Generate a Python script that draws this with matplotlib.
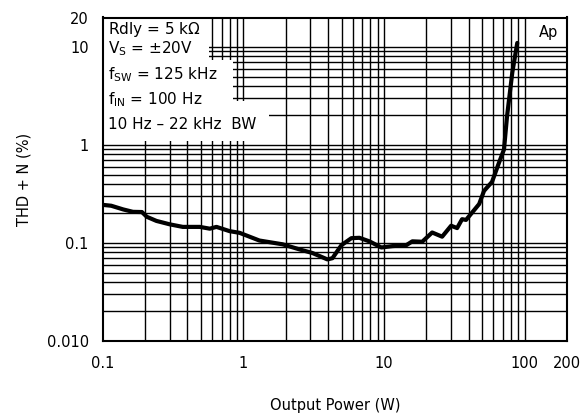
import matplotlib
matplotlib.use("Agg")
import matplotlib.pyplot as plt
from matplotlib.patches import Rectangle
import numpy as np

# Data
power_w = [0.10, 0.115, 0.14, 0.164, 0.19, 0.206, 0.241, 0.30, 0.371, 0.49, 0.577,
           0.644, 0.80, 0.94, 1.3, 1.9, 2.51, 3.1, 3.96, 4.3, 4.98, 5.86, 6.68,
           7.87, 9.57, 11.5, 14.4, 15.9, 18.7, 22.0, 25.9, 30.0, 33.1, 35.9, 38.3,
           47.5, 51.4, 58.6, 65.7, 71.3, 74.9, 81.7, 88.6]
thd_pct = [0.245, 0.240, 0.220, 0.208, 0.207, 0.185, 0.168, 0.155, 0.146, 0.146, 0.140,
           0.146, 0.132, 0.127, 0.106, 0.097, 0.086, 0.079, 0.068, 0.070, 0.095, 0.112, 0.113,
           0.104, 0.090, 0.093, 0.095, 0.104, 0.103, 0.128, 0.116, 0.150, 0.142, 0.175, 0.172,
           0.25, 0.34, 0.42, 0.66, 0.90, 1.95, 5.5, 11.0]

x_ticks = [0.1, 1, 10, 100, 200]
x_ticklabels = ["0.1", "1", "10", "100", "200"]
y_ticks = [0.01, 0.1, 1, 10, 20]
y_ticklabels = ["0.010", "0.1", "1", "10", "20"]

conditions = [r"Rdly = 5 k$\Omega$",
              r"V$_\mathregular{S}$ = $\pm$20V",
              r"f$_\mathregular{SW}$ = 125 kHz",
              r"f$_\mathregular{IN}$ = 100 Hz",
              "10 Hz \u2013 22 kHz  BW"]

plt.rcParams['font.family'] = ['DejaVu Sans']
plt.rcParams['mathtext.default'] = 'regular'

fig = plt.figure(figsize=(5.81, 4.13), dpi=100)
W, H = 581, 413
left, right, top, bottom = 102.7, 567, 17.5, 341
ax = fig.add_axes([left / W, 1 - bottom / H, (right - left) / W, (bottom - top) / H])
ax.set_xscale('log')
ax.set_yscale('log')
ax.set_xlim(0.1, 200)
ax.set_ylim(0.01, 20)

# grid lines
for dec in [0.1, 1, 10]:
    for k in range(2, 10):
        ax.axvline(k * dec, color='black', lw=1.0, zorder=1)
    ax.axvline(dec * 10, color='black', lw=1.0, zorder=1)
for dec in [0.01, 0.1, 1]:
    for k in range(2, 10):
        ax.axhline(k * dec, color='black', lw=1.0, zorder=1)
    ax.axhline(dec * 10, color='black', lw=1.0, zorder=1)

ax.plot(power_w, thd_pct, color='black', lw=3.0, zorder=3,
        solid_joinstyle='round', solid_capstyle='round')

# white backgrounds behind condition text
for (x1, y0, y1) in [(0.229, 0.869, 1.0), (0.281, 0.742, 0.869), (0.358, 0.618, 0.742)]:
    ax.add_patch(Rectangle((0, y0), x1, y1 - y0, transform=ax.transAxes,
                           facecolor='white', edgecolor='none', zorder=2))

text_y = [29.5, 48.5, 75, 100, 125]
for s, py in zip(conditions, text_y):
    ax.text((108 - left) / (right - left), (bottom - py) / (bottom - top), s,
            transform=ax.transAxes, fontsize=11, va='center', ha='left', zorder=4)

ax.text((558 - left) / (right - left), (bottom - 32) / (bottom - top), "Ap",
        transform=ax.transAxes, fontsize=10.5, va='center', ha='right', zorder=4)

ax.set_xticks(x_ticks)
ax.set_xticklabels(x_ticklabels)
ax.set_yticks(y_ticks)
ax.set_yticklabels(y_ticklabels)
ax.minorticks_off()
ax.tick_params(length=0, labelsize=10.5, pad=11)
ax.tick_params(axis='y', pad=10)
for sp in ax.spines.values():
    sp.set_linewidth(1.5)
    sp.set_zorder(5)

ax.set_xlabel("Output Power (W)", fontsize=10.5)
ax.xaxis.set_label_coords(0.5, (bottom - 398) / (bottom - top))
ax.set_ylabel("THD + N (%)", fontsize=10.5)
ax.yaxis.set_label_coords((32 - left) / (right - left), 0.5)

fig.savefig("out.png", dpi=100)
